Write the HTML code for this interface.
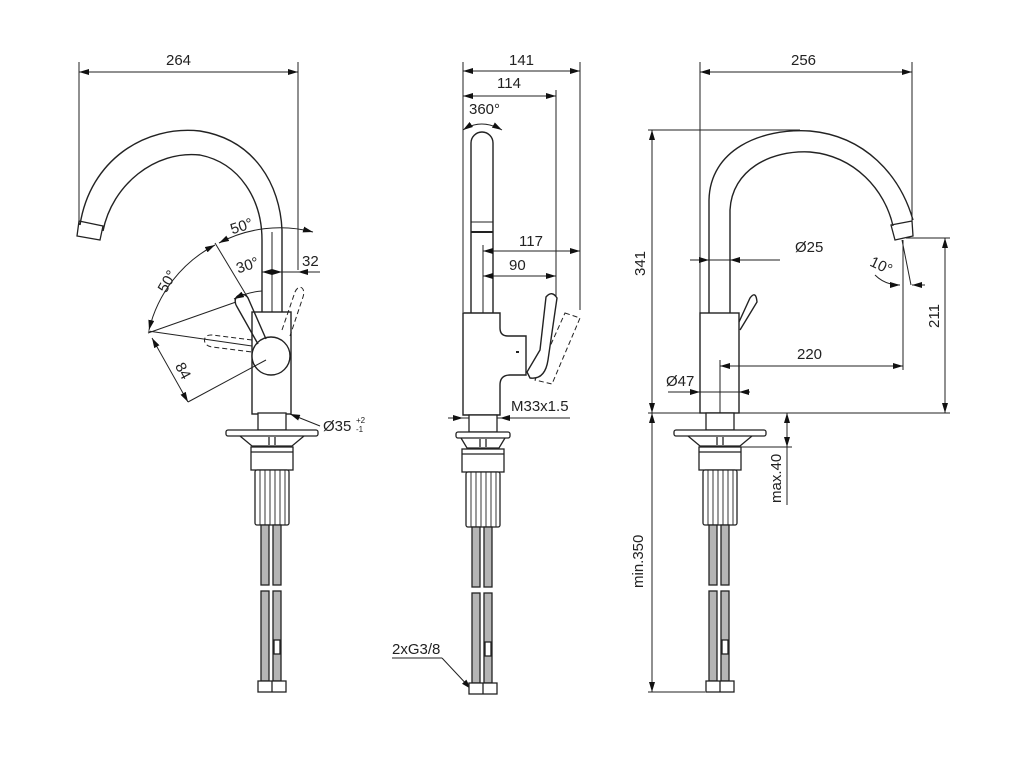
<!DOCTYPE html>
<html><head><meta charset="utf-8"><style>
html,body{margin:0;padding:0;background:#fff;}
svg{display:block;}
text{font-family:"Liberation Sans",sans-serif;font-size:15px;fill:#222;}
</style></head><body>
<svg width="1024" height="775" viewBox="0 0 1024 775" xmlns="http://www.w3.org/2000/svg">
<defs>
<marker id="a" viewBox="0 0 10 6" refX="10" refY="3" markerWidth="10" markerHeight="6" markerUnits="userSpaceOnUse" orient="auto-start-reverse"><path d="M0,0L10,3L0,6z" fill="#111"/></marker>
<g id="body" fill="#fff" stroke="#222" stroke-width="1.3">
  <rect x="-21" y="17" width="42" height="23"/>
  <line x1="-21" y1="22" x2="21" y2="22"/>
  <rect x="-17" y="40" width="34" height="55" rx="2"/>
  <path d="M-12,40V95M-7,40V95M-2,40V95M3,40V95M8,40V95M13,40V95" stroke-width="0.9"/>
  <rect x="-11" y="95" width="8" height="60" fill="#b5b5b5"/>
  <rect x="1" y="95" width="8" height="60" fill="#b5b5b5"/>
  <rect x="-11" y="161" width="8" height="90" fill="#b5b5b5"/>
  <rect x="1" y="161" width="8" height="90" fill="#b5b5b5"/>
  <rect x="2" y="210" width="6" height="14" fill="#fff"/>
  <rect x="-14" y="251" width="28" height="11" fill="#fff"/>
  <line x1="0" y1="251" x2="0" y2="262"/>
</g>
<g id="low" fill="#fff" stroke="#222" stroke-width="1.3">
  <rect x="-14" y="-17" width="28" height="17"/>
  <rect x="-46" y="0" width="92" height="6" rx="2"/>
  <path d="M-32,6 L-20,16 L20,16 L32,6" fill="none"/>
  <line x1="-3" y1="7" x2="-3" y2="15"/><line x1="3" y1="7" x2="3" y2="15"/>
  <use href="#body"/>
</g>
<g id="lowm" fill="#fff" stroke="#222" stroke-width="1.3">
  <rect x="-14" y="-17" width="28" height="17"/>
  <rect x="-27" y="0" width="54" height="6" rx="2"/>
  <path d="M-22,6 L-16,16 L16,16 L22,6" fill="none"/>
  <line x1="-3" y1="7" x2="-3" y2="15"/><line x1="3" y1="7" x2="3" y2="15"/>
  <use href="#body"/>
</g>
</defs>
<g fill="none" stroke="#222" stroke-width="1">
<!-- LEFT VIEW -->
<line x1="79" y1="72" x2="298" y2="72" marker-start="url(#a)" marker-end="url(#a)"/>
<line x1="79" y1="62" x2="79" y2="225"/><line x1="298" y1="62" x2="298" y2="270"/>
<path d="M80,225 C90,160 145,125 200,131 C255,140 280,185 282,230 L282,312" stroke-width="1.4"/>
<path d="M103,231 C112,185 155,150 200,155 C240,163 262,200 262,240 L262,312" stroke-width="1.4"/>
<path d="M79,221 L103,226 L100,240 L77,236 Z" stroke-width="1.3"/>
<line x1="272" y1="232" x2="272" y2="312"/>
<rect x="252" y="312" width="39" height="102" stroke-width="1.4" fill="#fff"/>
<circle cx="271" cy="356" r="19" stroke-width="1.4" fill="#fff"/>
<path d="M236,305 C232,295 244,291 248,298 L266,339" stroke-width="1.4"/>
<path d="M236,305 L258,344" stroke-width="1.4"/>
<path d="M252,340 L212,335 C202,334 202,346 212,347 L252,352" stroke-dasharray="5,3"/>
<path d="M282,330 L295,292 C299,283 306,288 303,297 L290,336" stroke-dasharray="5,3"/>
<path d="M149,330 A130,130 0 0 1 215,245" marker-start="url(#a)" marker-end="url(#a)"/>
<path d="M219,243 A130,130 0 0 1 313,232" marker-start="url(#a)" marker-end="url(#a)"/>
<path d="M234,299 A72,72 0 0 1 262,291" marker-start="url(#a)"/>
<line x1="262" y1="272" x2="320" y2="272"/>
<line x1="272" y1="272" x2="262" y2="272" marker-end="url(#a)"/>
<line x1="272" y1="272" x2="282" y2="272" marker-end="url(#a)"/>
<line x1="310" y1="272" x2="298" y2="272" marker-end="url(#a)"/>
<line x1="215" y1="243" x2="248" y2="298"/>
<line x1="148" y1="333" x2="236" y2="302"/>
<line x1="148" y1="331" x2="252" y2="346"/>
<line x1="152" y1="338" x2="188" y2="402" marker-start="url(#a)" marker-end="url(#a)"/>
<line x1="188" y1="402" x2="266" y2="360"/>
<line x1="320" y1="426" x2="290" y2="414" marker-end="url(#a)"/>
<!-- MIDDLE VIEW -->
<line x1="463" y1="71" x2="580" y2="71" marker-start="url(#a)" marker-end="url(#a)"/>
<line x1="463" y1="96" x2="556" y2="96" marker-start="url(#a)" marker-end="url(#a)"/>
<line x1="463" y1="62" x2="463" y2="312"/>
<line x1="580" y1="62" x2="580" y2="310"/>
<line x1="556" y1="90" x2="556" y2="298"/>
<path d="M463,130 Q481,118 502,130" marker-start="url(#a)" marker-end="url(#a)"/>
<path d="M471,313 L471,143 A11,11 0 0 1 493,143 L493,313" stroke-width="1.4"/>
<line x1="471" y1="222" x2="493" y2="222"/><line x1="471" y1="232" x2="493" y2="232" stroke-width="2"/>
<line x1="483" y1="251" x2="580" y2="251" marker-start="url(#a)" marker-end="url(#a)"/>
<line x1="483" y1="276" x2="556" y2="276" marker-start="url(#a)" marker-end="url(#a)"/>
<line x1="483" y1="245" x2="483" y2="313"/>
<path d="M463,313 L500,313 L500,328 Q500,336 508,336 L526,336 L526,375 L510,375 Q500,375 500,385 L500,415 L463,415 Z" stroke-width="1.4" fill="#fff"/>
<line x1="516" y1="352" x2="519" y2="352" stroke-width="2"/>
<path d="M565,313 L580,318 L552,384 L535,380 Z" stroke-dasharray="5,3"/>
<path d="M546,297 Q552,290 557,298 L548,360 Q545,380 530,378 L527,372 L540,350 Z" stroke-width="1.4" fill="#fff"/>
<line x1="455" y1="418" x2="570" y2="418"/>
<line x1="448" y1="418" x2="463" y2="418" marker-end="url(#a)"/>
<line x1="510" y1="418" x2="500" y2="418" marker-end="url(#a)"/>
<line x1="392" y1="658" x2="442" y2="658"/>
<line x1="442" y1="658" x2="471" y2="689" marker-end="url(#a)"/>
<!-- RIGHT VIEW -->
<line x1="700" y1="72" x2="912" y2="72" marker-start="url(#a)" marker-end="url(#a)"/>
<line x1="700" y1="62" x2="700" y2="413"/><line x1="912" y1="62" x2="912" y2="222"/>
<line x1="648" y1="130" x2="800" y2="130"/>
<line x1="652" y1="130" x2="652" y2="413" marker-start="url(#a)" marker-end="url(#a)"/>
<path d="M709,313 L709,200 C710,150 760,128 810,131 C865,136 900,175 913,220" stroke-width="1.4"/>
<path d="M730,313 L730,210 C732,170 770,150 810,152 C855,156 885,190 893,226" stroke-width="1.4"/>
<path d="M891,225 L912,221 L913,236 L895,240 Z" stroke-width="1.3"/>
<rect x="700" y="313" width="39" height="100" stroke-width="1.4" fill="#fff"/>
<path d="M739,322 L750,298 Q756,290 757,302 L740,330" stroke-width="1.4"/>
<line x1="697" y1="260" x2="780" y2="260"/>
<line x1="690" y1="260" x2="709" y2="260" marker-end="url(#a)"/>
<line x1="740" y1="260" x2="730" y2="260" marker-end="url(#a)"/>
<line x1="720" y1="360" x2="720" y2="413"/>
<line x1="720" y1="366" x2="903" y2="366" marker-start="url(#a)" marker-end="url(#a)"/>
<line x1="903" y1="240" x2="903" y2="370"/>
<line x1="902" y1="240" x2="911" y2="285"/>
<path d="M875,275 Q885,285 900,285" marker-end="url(#a)"/>
<line x1="925" y1="285" x2="912" y2="285" marker-end="url(#a)"/>
<line x1="906" y1="238" x2="950" y2="238"/>
<line x1="945" y1="238" x2="945" y2="413" marker-start="url(#a)" marker-end="url(#a)"/>
<line x1="668" y1="392" x2="740" y2="392"/>
<line x1="690" y1="392" x2="700" y2="392" marker-end="url(#a)"/>
<line x1="750" y1="392" x2="739" y2="392" marker-end="url(#a)"/>
<line x1="648" y1="413" x2="950" y2="413"/>
<line x1="740" y1="447" x2="792" y2="447"/>
<line x1="787" y1="413" x2="787" y2="447" marker-start="url(#a)" marker-end="url(#a)"/>
<line x1="787" y1="447" x2="787" y2="505"/>
<line x1="652" y1="413" x2="652" y2="692" marker-start="url(#a)" marker-end="url(#a)"/>
<line x1="648" y1="692" x2="705" y2="692"/>
</g>
<use href="#low" transform="translate(272,430)"/>
<use href="#lowm" transform="translate(483,432)"/>
<use href="#low" transform="translate(720,430)"/>
<!-- labels -->
<text x="166" y="65">264</text>
<text x="230" y="230" transform="rotate(-18 245 225)">50°</text>
<text x="155" y="285" transform="rotate(-60 168 280)">50°</text>
<text x="236" y="270" transform="rotate(-18 248 265)">30°</text>
<text x="302" y="266">32</text>
<text x="171" y="372" transform="rotate(62 178 372)">84</text>
<text x="323" y="431">Ø35</text>
<text x="356" y="423" style="font-size:8px">+2</text>
<text x="356" y="432" style="font-size:8px">-1</text>
<text x="509" y="65">141</text>
<text x="497" y="88">114</text>
<text x="469" y="114">360°</text>
<text x="519" y="246">117</text>
<text x="509" y="270">90</text>
<text x="511" y="411">M33x1.5</text>
<text x="392" y="654">2xG3/8</text>
<text x="791" y="65">256</text>
<text x="795" y="252">Ø25</text>
<text x="870" y="270" transform="rotate(25 880 265)">10°</text>
<text x="797" y="359">220</text>
<text x="666" y="386">Ø47</text>
<text x="634" y="275" transform="rotate(-90 640 270)">341</text>
<text x="925" y="322" transform="rotate(-90 935 318)">211</text>
<text x="758" y="480" transform="rotate(-90 781 480)">max.40</text>
<text x="610" y="555" transform="rotate(-90 643 555)">min.350</text>
</svg>
</body></html>
